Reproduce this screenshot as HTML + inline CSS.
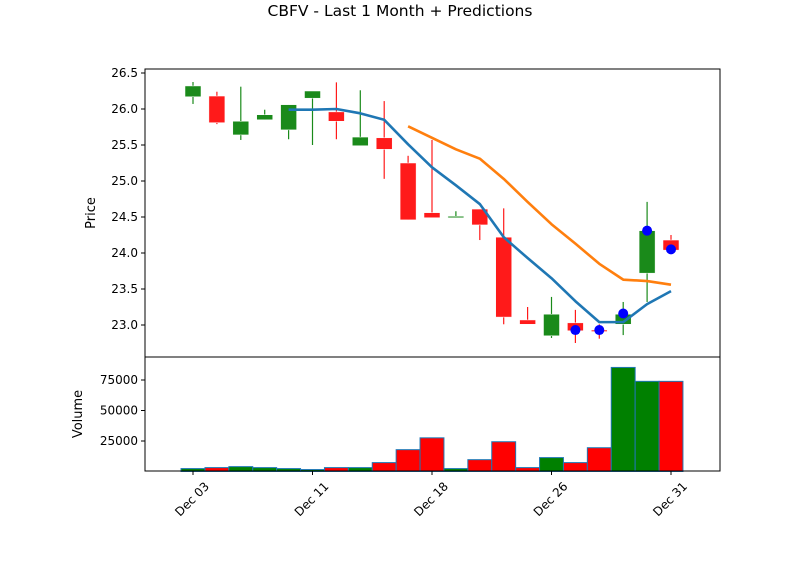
<!DOCTYPE html>
<html><head><meta charset="utf-8"><style>
body{margin:0;background:#fff;}
svg{display:block;font-family:"DejaVu Sans","Liberation Sans",sans-serif;}
</style></head><body>
<svg id="chart" width="800" height="575" viewBox="0 0 800 575" xmlns="http://www.w3.org/2000/svg">
<text x="400" y="16" text-anchor="middle" font-size="15.5">CBFV - Last 1 Month + Predictions</text>
<text transform="translate(95,213) rotate(-90)" text-anchor="middle" font-size="13">Price</text>
<text transform="translate(82,414) rotate(-90)" text-anchor="middle" font-size="13">Volume</text>
<g id="price"></g><g id="vol"></g><g id="xax"></g>
<rect x="145" y="69" width="575" height="288" fill="none" stroke="#000" stroke-width="1"/>
<rect x="145" y="357" width="575" height="114" fill="none" stroke="#000" stroke-width="1"/>
</svg>
<script>
const opens  = [26.17,26.18,25.64,25.85,25.71,26.15,25.96,25.49,25.60,25.25,24.56,24.49,24.61,24.22,23.07,22.85,23.03,22.93,23.01,23.72,24.18];
const closes = [26.32,25.81,25.83,25.92,26.06,26.25,25.83,25.61,25.44,24.46,24.49,24.51,24.39,23.11,23.01,23.15,22.92,22.92,23.15,24.31,24.04];
const highs  = [26.375,26.24,26.31,25.99,26.06,26.25,26.37,26.26,26.11,25.35,25.57,24.58,24.61,24.62,23.25,23.39,23.21,23.01,23.32,24.71,24.25];
const lows   = [26.07,25.79,25.57,25.85,25.58,25.50,25.58,25.49,25.03,24.46,24.49,24.49,24.18,23.01,23.01,22.82,22.75,22.81,22.86,23.32,24.04];
const volumes = [2400,3200,4000,3200,2400,1600,3200,3200,7300,17900,27600,2400,9700,24400,3200,11400,7300,19500,85300,73900,73900];
const smaIdx = [4,5,6,7,8,9,10,11,12,13,14,15,16,17,18,19,20];
const smaVals = [25.99,25.99,26.0,25.94,25.85,25.51,25.19,24.94,24.68,24.22,23.93,23.65,23.33,23.04,23.04,23.29,23.47];
const predLineIdx = [9,10,11,12,13,14,15,16,17,18,19,20];
const predLineVals = [25.76,25.6,25.44,25.31,25.03,24.71,24.4,24.13,23.85,23.63,23.61,23.56];
const dotIdx = [16,17,18,19,20];
const dotVals = [22.93,22.93,23.16,24.31,24.05];
const priceTicks = [23.0,23.5,24.0,24.5,25.0,25.5,26.0,26.5];
const volTicks = [25000,50000,75000];
const xTickIdx = [0,5,10,15,20];
const xTickLabels = ["Dec 03","Dec 11","Dec 18","Dec 26","Dec 31"];

const NS="http://www.w3.org/2000/svg";
const xS=i=>193+i*23.9;
const yP=p=>73+(26.5-p)*72;
const yV=v=>471.5-v*61/50000;
function mk(tag,parent,attrs){const e=document.createElementNS(NS,tag);for(const k in attrs)e.setAttribute(k,attrs[k]);parent.appendChild(e);return e;}
const gp=document.getElementById('price'), gv=document.getElementById('vol'), gx=document.getElementById('xax');

opens.forEach((o,i)=>{
  const c=closes[i], up=c>=o, col=up?'#1a8a1a':'#ff1a1a';
  const w=mk('line',gp,{x1:xS(i),x2:xS(i),y1:yP(highs[i]),y2:yP(lows[i]),stroke:col,'stroke-width':1.2});
  
  
  const top=yP(Math.max(o,c)), h=Math.max(1.5,Math.abs(yP(o)-yP(c)));
  const b=mk('rect',gp,{x:xS(i)-8,y:top,width:16,height:h,fill:col,stroke:'#fff','stroke-width':0.5});
  
  
});
function line(idx,vals,col,name){
  const pl=mk('polyline',gp,{points:idx.map((d,k)=>xS(d)+','+yP(vals[k])).join(' '),fill:'none',stroke:col,'stroke-width':2.6,'stroke-linejoin':'round'});
  
  
}
line(smaIdx,smaVals,'#1f77b4','moving-average-line');
line(predLineIdx,predLineVals,'#ff7f0e','prediction-line');
dotIdx.forEach((d,k)=>{
  const c=mk('circle',gp,{cx:xS(d),cy:yP(dotVals[k]),r:5,fill:'#0000ff'});
  
  
});
priceTicks.forEach(t=>{
  const y=yP(t);
  const l=mk('line',gp,{x1:141,x2:145,y1:y,y2:y,stroke:'#000'});
  
  
  const tx=mk('text',gp,{x:138,y:y+4,'text-anchor':'end','font-size':12});
  tx.textContent=t.toFixed(1);
  
  
});
volumes.forEach((v,i)=>{
  const up=closes[i]>=opens[i];
  const r=mk('rect',gv,{x:xS(i)-11.95,y:yV(v),width:23.9,height:471.5-yV(v),fill:up?'#008000':'#ff0000',stroke:'#1f77b4','stroke-width':1});
  
  
});
volTicks.forEach(t=>{
  const y=yV(t);
  const l=mk('line',gv,{x1:141,x2:145,y1:y,y2:y,stroke:'#000'});
  
  
  const tx=mk('text',gv,{x:138,y:y+4,'text-anchor':'end','font-size':12});
  tx.textContent=t;
  
  
});
xTickIdx.forEach((d,k)=>{
  const x=xS(d);
  const l=mk('line',gx,{x1:x,x2:x,y1:471,y2:475,stroke:'#000'});
  
  
  const tx=mk('text',gx,{transform:`translate(${x+2},${502}) rotate(-45)`,'text-anchor':'middle','font-size':12});
  tx.textContent=xTickLabels[k];
  
  
});
</script>
</body></html>
